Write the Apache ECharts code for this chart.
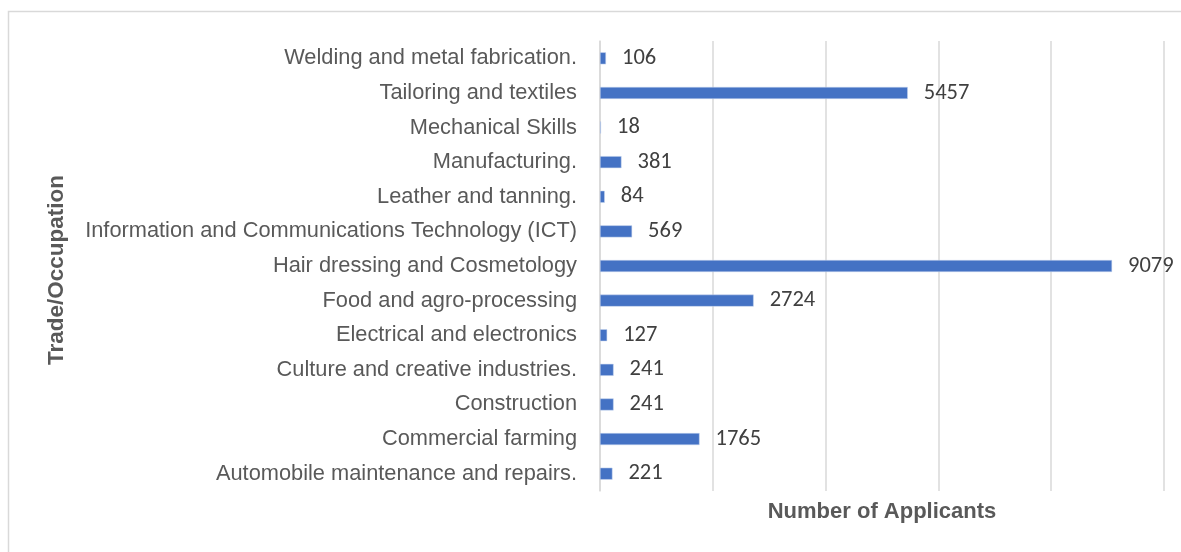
<!DOCTYPE html>
<html>
<head>
<meta charset="utf-8">
<script src="https://cdn.jsdelivr.net/npm/echarts@6/dist/echarts.min.js"></script>
<style>
  html, body { margin: 0; padding: 0; background: #ffffff; }
  #chart { width: 1181px; height: 552px; }
</style>
</head>
<body>
<div id="chart"></div>
<script>
// Trades listed bottom-to-top as the category axis draws them
const trades = [
  'Automobile maintenance and repairs.',
  'Commercial farming',
  'Construction',
  'Culture and creative industries.',
  'Electrical and electronics',
  'Food and agro-processing',
  'Hair dressing and Cosmetology',
  'Information and Communications Technology (ICT)',
  'Leather and tanning.',
  'Manufacturing.',
  'Mechanical Skills',
  'Tailoring and textiles',
  'Welding and metal fabrication.'
];
const applicants = [221, 1765, 241, 241, 127, 2724, 9079, 569, 84, 381, 18, 5457, 106];

const xAxisName = 'Number of Applicants';
const yAxisName = 'Trade/Occupation';

const labelFont = '"Liberation Sans Narrow", "Arial Narrow", "Liberation Sans", sans-serif';

const chart = echarts.init(document.getElementById('chart'), null, { renderer: 'canvas' });

chart.setOption({
  animation: false,
  backgroundColor: '#ffffff',
  graphic: [{
    type: 'rect',
    x: 8.5, y: 11.5,
    shape: { x: 0, y: 0, width: 1190, height: 560 },
    style: { fill: 'none', stroke: '#d9d9d9', lineWidth: 1.5 },
    silent: true
  }, {
    type: 'text',
    x: 882, y: 512,
    style: {
      text: xAxisName,
      font: 'bold 22px ' + labelFont,
      fill: '#595959',
      align: 'center',
      verticalAlign: 'middle'
    }
  }, {
    type: 'text',
    x: 57, y: 270,
    rotation: Math.PI / 2,
    style: {
      text: yAxisName,
      font: 'bold 22.5px ' + labelFont,
      fill: '#595959',
      align: 'center',
      verticalAlign: 'middle'
    }
  }],
  grid: { left: 600, right: 17, top: 41, bottom: 61, containLabel: false },
  xAxis: {
    type: 'value',
    min: 0, max: 10000, interval: 2000,
    axisLabel: { show: false },
    axisTick: { show: false },
    axisLine: { show: false },
    splitLine: { show: true, lineStyle: { color: '#d9d9d9', width: 1.5 } }
  },
  yAxis: {
    type: 'category',
    data: trades,
    axisTick: { show: false },
    axisLine: { show: true, lineStyle: { color: '#d9d9d9', width: 1.5 } },
    axisLabel: {
      margin: 23,
      color: '#595959',
      fontSize: 21.8,
      fontFamily: labelFont
    }
  },
  series: [{
    type: 'bar',
    data: applicants,
    barWidth: 12,
    itemStyle: { color: '#4472c4', borderColor: '#c9d6ee', borderWidth: 0.5 },
    label: {
      show: true,
      position: 'right',
      distance: 16,
      color: '#404040',
      fontSize: 22.5,
      fontFamily: 'Carlito, "Open Sans", sans-serif'
    }
  }]
});
</script>
</body>
</html>
